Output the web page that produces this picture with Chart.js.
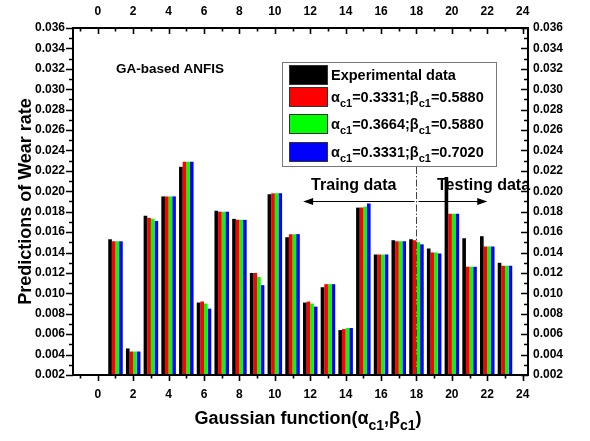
<!DOCTYPE html>
<html>
<head>
<meta charset="utf-8">
<script src="https://cdn.jsdelivr.net/npm/chart.js@4.4.1/dist/chart.umd.min.js"></script>
<style>
  html, body { margin: 0; padding: 0; background: #fff; }
  #wrap { width: 590px; height: 441px; }
</style>
</head>
<body>
<div id="wrap"><canvas id="wearChart"></canvas></div>
<script>
const samples = [1, 2, 3, 4, 5, 6, 7, 8, 9, 10, 11, 12, 13, 14, 15, 16, 17, 18, 19, 20, 21, 22, 23];
const experimental = [0.0153, 0.0046, 0.0176, 0.0195, 0.0224, 0.0091, 0.0181, 0.0173, 0.0120, 0.0197, 0.0155, 0.0091,
                      0.0106, 0.0064, 0.0184, 0.0138, 0.0152, 0.0153, 0.0144, 0.0214, 0.0154, 0.0156, 0.0130];
const fitA = [0.0151, 0.0043, 0.0174, 0.0195, 0.0229, 0.0092, 0.0180, 0.0172, 0.0120, 0.0198, 0.0158, 0.0092,
              0.0109, 0.0065, 0.0184, 0.0138, 0.0151, 0.0152, 0.0140, 0.0178, 0.0126, 0.0146, 0.0127];
const fitB = [0.0151, 0.0043, 0.0173, 0.0195, 0.0229, 0.0090, 0.0180, 0.0172, 0.0116, 0.0198, 0.0158, 0.0090,
              0.0109, 0.0066, 0.0185, 0.0138, 0.0151, 0.0150, 0.0140, 0.0178, 0.0126, 0.0146, 0.0127];
const fitC = [0.0151, 0.0043, 0.0171, 0.0195, 0.0229, 0.0085, 0.0180, 0.0172, 0.0108, 0.0198, 0.0158, 0.0087,
              0.0109, 0.0066, 0.0188, 0.0138, 0.0151, 0.0148, 0.0139, 0.0178, 0.0126, 0.0146, 0.0127];

const seriesLabels = ["Experimental data", "α_{c1}=0.3331;β_{c1}=0.5880", "α_{c1}=0.3664;β_{c1}=0.5880", "α_{c1}=0.3331;β_{c1}=0.7020"];
const seriesColors = ["#000000", "#ff0000", "#00ff00", "#0000ff"];

const xTicks = [0, 2, 4, 6, 8, 10, 12, 14, 16, 18, 20, 22, 24];
const yTicks = [0.002, 0.004, 0.006, 0.008, 0.010, 0.012, 0.014, 0.016, 0.018, 0.020,
                0.022, 0.024, 0.026, 0.028, 0.030, 0.032, 0.034, 0.036];

const splitAt = 18;
const FONT = "Arial, 'Liberation Sans', sans-serif";

// split "α_{c1}=..." into normal / subscript runs
function richParts(text) {
  const parts = [];
  const re = /_\{([^}]*)\}/g;
  let last = 0, m;
  while ((m = re.exec(text))) {
    if (m.index > last) parts.push({ t: text.slice(last, m.index), sub: false });
    parts.push({ t: m[1], sub: true });
    last = re.lastIndex;
  }
  if (last < text.length) parts.push({ t: text.slice(last), sub: false });
  return parts;
}

function drawRich(ctx, text, x, y, size, align) {
  const parts = richParts(text);
  const subSize = Math.round(size * 0.78);
  let total = 0;
  parts.forEach(p => {
    ctx.font = `bold ${p.sub ? subSize : size}px ${FONT}`;
    p.w = ctx.measureText(p.t).width;
    total += p.w;
  });
  let cx = align === "center" ? x - total / 2 : x;
  ctx.textAlign = "left";
  ctx.textBaseline = "alphabetic";
  parts.forEach(p => {
    ctx.font = `bold ${p.sub ? subSize : size}px ${FONT}`;
    ctx.fillText(p.t, cx, p.sub ? y + size * 0.32 : y);
    cx += p.w;
  });
}

function arrow(ctx, x1, x2, y) {
  const dir = Math.sign(x2 - x1);
  ctx.beginPath();
  ctx.moveTo(x1, y);
  ctx.lineTo(x2 - dir * 8, y);
  ctx.stroke();
  ctx.beginPath();
  ctx.moveTo(x2, y);
  ctx.lineTo(x2 - dir * 10, y - 3.5);
  ctx.lineTo(x2 - dir * 10, y + 3.5);
  ctx.closePath();
  ctx.fill();
}

const decorations = {
  id: "decorations",
  afterDraw(chart) {
    const { ctx, chartArea: a, scales } = chart;
    const xs = scales.x, ys = scales.y;
    ctx.save();
    ctx.fillStyle = "#000";
    ctx.strokeStyle = "#000";

    // frame
    ctx.lineWidth = 2;
    ctx.strokeRect(a.left, a.top, a.right - a.left, a.bottom - a.top);

    // ticks: bottom/left outward, top/right inward
    ctx.lineWidth = 1.6;
    ctx.beginPath();
    for (let i = Math.ceil(xs.min); i <= Math.floor(xs.max); i++) {
      const px = Math.round(xs.getPixelForValue(i)) + 0.5;
      const len = i % 2 === 0 ? 6 : 3.5;
      ctx.moveTo(px, a.bottom); ctx.lineTo(px, a.bottom + len);
      ctx.moveTo(px, a.top); ctx.lineTo(px, a.top + len);
    }
    for (let k = 2; k <= 36; k++) {
      const py = Math.round(ys.getPixelForValue(k / 1000)) + 0.5;
      const len = k % 2 === 0 ? 7 : 4;
      ctx.moveTo(a.left, py); ctx.lineTo(a.left - len, py);
      ctx.moveTo(a.right, py); ctx.lineTo(a.right - len, py);
    }
    ctx.stroke();

    // legend box
    const lx = 282, ly = 62, lw = 214, lh = 104;
    ctx.lineWidth = 1;
    ctx.strokeStyle = "#777";
    ctx.fillStyle = "#fff";
    ctx.fillRect(lx, ly, lw, lh);
    ctx.strokeRect(lx + 0.5, ly + 0.5, lw, lh);
    const rowY = [75, 97, 124, 152];
    seriesLabels.forEach((label, i) => {
      ctx.fillStyle = seriesColors[i];
      ctx.fillRect(289, rowY[i] - 9.5, 38, 19);
      ctx.strokeStyle = "#333";
      ctx.strokeRect(289.5, rowY[i] - 9.5, 38, 19);
      ctx.fillStyle = "#000";
      drawRich(ctx, label, 331, rowY[i] + 5, 14.5, "left");
    });

    // training / testing split
    const sx = Math.round(xs.getPixelForValue(splitAt)) + 0.5;
    ctx.strokeStyle = "#444";
    ctx.lineWidth = 1;
    ctx.setLineDash([7, 2, 1.5, 2]);
    ctx.beginPath();
    ctx.moveTo(sx, ly + lh + 1);
    ctx.lineTo(sx, a.bottom);
    ctx.stroke();
    ctx.setLineDash([]);

    const ay = ys.getPixelForValue(0.0190);
    ctx.strokeStyle = "#000";
    ctx.fillStyle = "#000";
    arrow(ctx, sx - 2, xs.getPixelForValue(11.6), ay);
    arrow(ctx, sx + 2, xs.getPixelForValue(22), ay);

    const ty = ys.getPixelForValue(0.0207) + 6;
    drawRich(ctx, "Traing data", xs.getPixelForValue(14.46), ty, 16, "center");
    drawRich(ctx, "Testing data", xs.getPixelForValue(19.16), ty, 16, "left");

    drawRich(ctx, "GA-based ANFIS", 116, 73, 13.5, "left");

    // axis titles
    drawRich(ctx, "Gaussian function(α_{c1},β_{c1})", 308, 424, 18, "center");
    ctx.save();
    ctx.translate(31, (a.top + a.bottom) / 2);
    ctx.rotate(-Math.PI / 2);
    drawRich(ctx, "Predictions of Wear rate", 0, 0, 18, "center");
    ctx.restore();

    ctx.restore();
  }
};

const tickFont = { family: FONT, size: 12, weight: "bold" };
const noGrid = { display: false, drawTicks: false };
const xBase = {
  type: "linear", min: -1.4, max: 24.3, offset: false,
  grid: noGrid, border: { display: false },
  afterBuildTicks: s => { s.ticks = xTicks.map(v => ({ value: v })); }
};
const yBase = {
  type: "linear", min: 0.002, max: 0.036,
  grid: noGrid, border: { display: false },
  afterBuildTicks: s => { s.ticks = yTicks.map(v => ({ value: v })); }
};

new Chart(document.getElementById("wearChart"), {
  type: "bar",
  data: {
    datasets: [experimental, fitA, fitB, fitC].map((vals, i) => ({
      label: seriesLabels[i],
      data: samples.map((s, j) => ({ x: s, y: vals[j] })),
      backgroundColor: seriesColors[i],
      borderWidth: 0,
      categoryPercentage: 0.82,
      barPercentage: 1.0
    }))
  },
  options: {
    responsive: true,
    maintainAspectRatio: false,
    animation: false,
    layout: { padding: 0 },
    plugins: { legend: { display: false }, tooltip: { enabled: false } },
    scales: {
      x: { ...xBase, position: "bottom",
           ticks: { font: tickFont, color: "#000", padding: 12, maxRotation: 0 },
           afterFit: s => { s.height = 66; } },
      x2: { ...xBase, position: "top",
            ticks: { font: tickFont, color: "#000", padding: 9, maxRotation: 0 },
            afterFit: s => { s.height = 28; } },
      y: { ...yBase, position: "left",
           ticks: { font: tickFont, color: "#000", padding: 8, callback: v => v.toFixed(3) },
           afterFit: s => { s.width = 73; } },
      y2: { ...yBase, position: "right",
            ticks: { font: tickFont, color: "#000", padding: 5, callback: v => v.toFixed(3) },
            afterFit: s => { s.width = 62; } }
    }
  },
  plugins: [decorations]
});
</script>
</body>
</html>
